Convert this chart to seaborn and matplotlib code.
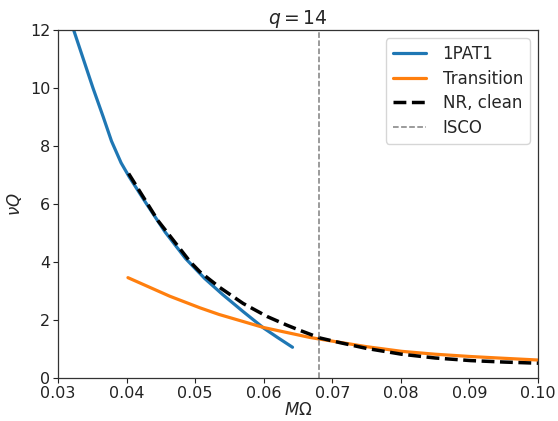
import matplotlib
matplotlib.use("Agg")
import matplotlib.pyplot as plt
import seaborn as sns
import pandas as pd

# 1PAT1
om_pat = [0.0320, 0.0351, 0.0366, 0.0378, 0.0392, 0.0404, 0.0427, 0.0456,
          0.0486, 0.0514, 0.0540, 0.0570, 0.0600, 0.0620, 0.0642]
nq_pat = [12.2, 10.0, 9.0, 8.17, 7.42, 6.93, 6.08, 5.04,
          4.12, 3.43, 2.88, 2.29, 1.72, 1.40, 1.06]

# Transition
om_tr = [0.0402, 0.0463, 0.0507, 0.0535, 0.0600, 0.0667, 0.0682, 0.0711, 0.0750,
         0.0801, 0.0850, 0.0902, 0.0950, 0.1000]
nq_tr = [3.46, 2.82, 2.42, 2.19, 1.74, 1.40, 1.34, 1.23, 1.08,
         0.92, 0.82, 0.74, 0.68, 0.62]

# NR, clean
om_nr = [0.0403, 0.0446, 0.0493, 0.0507, 0.0536, 0.0570, 0.0605, 0.0634, 0.0653,
         0.0682, 0.0711, 0.0750, 0.0801, 0.0850, 0.0902, 0.0950, 0.1000]
nq_nr = [7.05, 5.42, 4.00, 3.66, 3.12, 2.57, 2.12, 1.82, 1.64,
         1.38, 1.22, 1.02, 0.82, 0.69, 0.60, 0.55, 0.51]

isco = 0.068
title = "$q = 14$"
xticks = [0.03, 0.04, 0.05, 0.06, 0.07, 0.08, 0.09, 0.10]
yticks = [0, 2, 4, 6, 8, 10, 12]

sns.set_style("ticks")
plt.rcParams["font.family"] = ["DejaVu Sans"]
plt.rcParams["axes.edgecolor"] = "#333333"

fig = plt.figure(figsize=(5.58, 4.21), dpi=100)
ax = fig.add_axes([58 / 558, 43 / 421, 480 / 558, 348 / 421])

df_pat = pd.DataFrame({"x": om_pat, "y": nq_pat})
df_tr = pd.DataFrame({"x": om_tr, "y": nq_tr})
df_nr = pd.DataFrame({"x": om_nr, "y": nq_nr})

sns.lineplot(data=df_pat, x="x", y="y", ax=ax, color="#1f77b4", lw=2.3,
             sort=False, estimator=None, label="1PAT1")
sns.lineplot(data=df_tr, x="x", y="y", ax=ax, color="#ff7f0e", lw=2.3,
             sort=False, estimator=None, label="Transition")
sns.lineplot(data=df_nr, x="x", y="y", ax=ax, color="black", lw=2.5,
             sort=False, estimator=None, label="NR, clean", linestyle="--")
ax.axvline(isco, color="gray", lw=1.1, ls="--", label="ISCO")

ax.set_xlim(0.03, 0.10)
ax.set_ylim(0, 12)
ax.set_xticks(xticks)
ax.set_xticklabels([f"{t:.2f}" for t in xticks])
ax.set_yticks(yticks)
ax.tick_params(labelsize=11.5, length=3.5, width=0.8, colors="#222222", pad=2)
ax.set_xlabel(r"$M\Omega$", fontsize=12, labelpad=0)
ax.set_ylabel(r"$\nu Q$", fontsize=12, labelpad=4)
ax.set_title(title, fontsize=13.5, pad=3)
for s in ax.spines.values():
    s.set_linewidth(0.9)
leg = ax.legend(loc="upper right", fontsize=12, frameon=True, handlelength=2.0,
                handletextpad=1.0, labelspacing=0.4, borderaxespad=0.5)
leg.get_frame().set_edgecolor("#cccccc")

fig.savefig("out.png", dpi=100)
